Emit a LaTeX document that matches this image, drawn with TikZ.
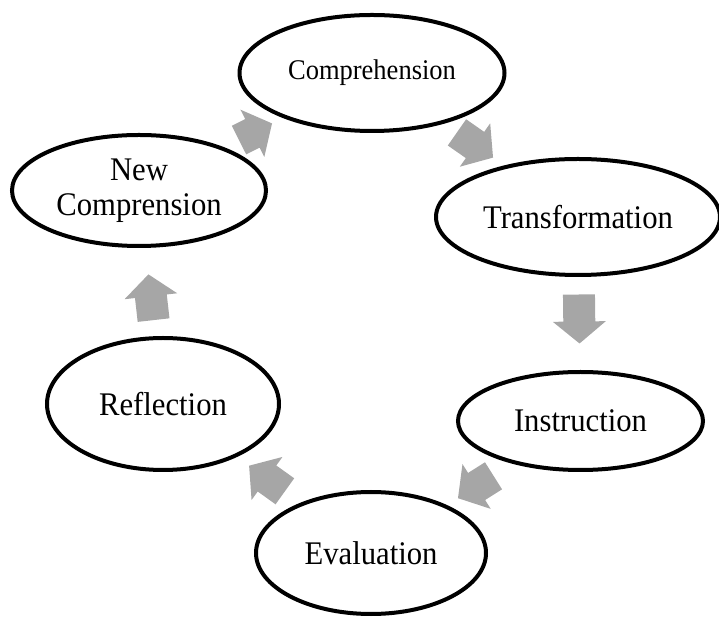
\documentclass[tikz,border=0pt]{standalone}
\usepackage{fontspec}
\setmainfont{Liberation Serif}[FakeStretch=0.93]
\usetikzlibrary{shapes.geometric,calc}

\definecolor{arrowgray}{RGB}{166,166,166}
\tikzset{
  stage/.style={ellipse, draw, line width=4pt, inner sep=0pt, align=center,
    font=\fontsize{33}{35}\selectfont},
}
% gray block arrow halfway between two stages, pointing from #2 to #3
\newcommand{\cyclearrow}[3][44]{%
  \fill[arrowgray] let \p1=($(#3.center)-(#2.center)$), \n1={atan2(\y1,\x1)},
      \p2=($(#2.center)!0.5!(#3.center)$), \n2={#1/2}, \n3={#1/2-22} in
    ($(\p2)+(\n1:-\n2)+({\n1+90}:16)$) -- ($(\p2)+(\n1:\n3)+({\n1+90}:16)$)
    -- ($(\p2)+(\n1:\n3)+({\n1+90}:26.5)$) -- ($(\p2)+(\n1:\n2)$)
    -- ($(\p2)+(\n1:\n3)+({\n1-90}:26.5)$) -- ($(\p2)+(\n1:\n3)+({\n1-90}:16)$)
    -- ($(\p2)+(\n1:-\n2)+({\n1-90}:16)$) -- cycle;
}

\begin{document}
\begin{tikzpicture}[x=1pt,y=1pt]
    \useasboundingbox (0,0) rectangle (719,618);
    \node[stage, minimum width=265pt, minimum height=116pt, font=\fontsize{28.5}{31}\selectfont] (comp) at (372,545) {Comprehension};
    \node[stage, minimum width=284pt, minimum height=116pt] (trans) at (578,401) {Transformation};
    \node[stage, minimum width=245pt, minimum height=98pt] (instr) at (580.5,197) {Instruction};
    \node[stage, minimum width=230pt, minimum height=122pt] (eval) at (371,65) {Evaluation};
    \node[stage, minimum width=232pt, minimum height=132pt] (refl) at (163,214) {Reflection};
    \node[stage, minimum width=254pt, minimum height=111pt] (newcomp) at (139,427.5) {New\\Comprension};

    \cyclearrow[37]{newcomp}{comp}
    \cyclearrow{comp}{trans}
    \cyclearrow[49]{trans}{instr}
    \cyclearrow[42]{instr}{eval}
    \cyclearrow{eval}{refl}
    \cyclearrow[46]{refl}{newcomp}
\end{tikzpicture}
\end{document}
